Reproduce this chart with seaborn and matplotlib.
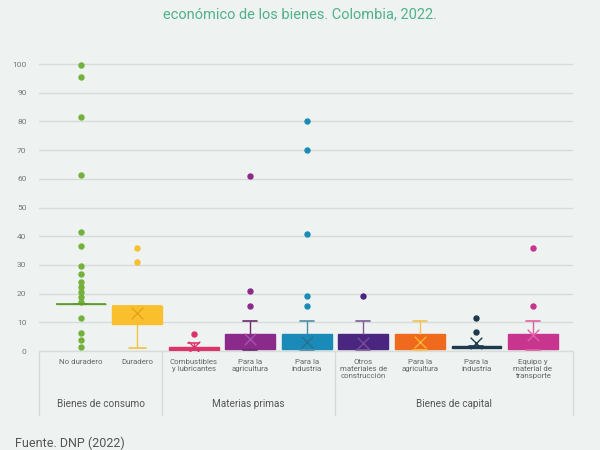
import matplotlib
matplotlib.use("Agg")
import matplotlib.pyplot as plt
import pandas as pd
import seaborn as sns

# category keys (labels repeat between groups, so keys are kept unique)
keys = ["nd", "du", "cl", "mp_ag", "mp_in", "bk_om", "bk_ag", "bk_in", "bk_eq"]
tick_labels = ["No duradero", "Duradero", "Combustibles\ny lubricantes",
               "Para la\nagricultura", "Para la\nindustria",
               "Otros\nmateriales de\nconstrucción", "Para la\nagricultura",
               "Para la\nindustria", "Equipo y\nmaterial de\ntransporte"]
groups = ["Bienes de consumo", "Materias primas", "Bienes de capital"]

values = {
    "nd": [16.3] * 36 + [99.6, 95.6, 81.4, 61.4, 41.5, 36.5, 29.5, 26.7, 24.2,
                         22.3, 20.5, 18.7, 17.1, 11.4, 6.4, 3.9, 1.4],
    "du": [0.9, 9.3, 9.3, 12.0, 15.7, 15.7, 15.7, 31.0, 36.0],
    "cl": [0.1, 0.2, 0.2, 0.5, 0.8, 1.3, 1.3, 2.8, 5.8],
    "mp_ag": [0.5, 0.6, 0.6, 0.6, 0.6, 1.0, 1.5, 2.0, 3.0, 4.0, 5.0, 5.8, 5.8,
              10.6, 15.8, 20.8, 60.9],
    "mp_in": [0.5, 0.6, 0.6, 0.6, 0.6, 0.6, 0.6, 1.0, 1.0, 1.5, 2.0, 2.0, 2.5,
              3.0, 3.5, 4.0, 5.0, 5.8, 5.8, 10.6, 15.8, 19.3, 40.8, 70.0, 80.1],
    "bk_om": [0.5, 0.6, 0.6, 2.0, 3.0, 5.8, 5.8, 10.6, 19.3],
    "bk_ag": [0.5, 0.6, 0.6, 2.0, 3.0, 5.8, 5.8, 8.0, 10.6],
    "bk_in": [1.0, 1.2, 1.2, 1.5, 1.5, 1.8, 1.8, 6.6, 11.6],
    "bk_eq": [0.5, 0.6, 0.6, 0.6, 1.0, 2.0, 3.0, 4.0, 5.0, 5.8, 10.6, 15.8, 35.8],
}
# mean markers (the one for "No duradero" is hidden in the picture)
means = [None, 13.2, 1.5, 4.3, 3.2, 2.9, 3.2, 2.7, 5.6]

box_colors = ["#74b13a", "#f9bf2c", "#dc3468", "#8c2a8c", "#1a8bb8",
              "#4b2680", "#f06a1e", "#1e3a4c", "#c7358f"]
line_colors = ["#5e9a2c", "#f5c040", "#dc3468", "#6a2a70", "#4f8ca6",
               "#7f5a95", "#f7c24e", "#1e3a4c", "#e0609f"]
mean_colors = ["#5e9a2c", "#e6a21c", "#dc3468", "#a653ab", "#2a6f8f",
               "#7a4a9a", "#f9b233", "#1e3a4c", "#e060a8"]
cap_widths = [0.25, 0.3, 0.2, 0.25, 0.25, 0.25, 0.25, 0.25, 0.25]

bg = "#eef3f1"
sns.set_theme(style="white")
plt.rcParams["font.family"] = ["Roboto", "DejaVu Sans"]

df = pd.DataFrame([(k, v) for k in keys for v in values[k]], columns=["cat", "val"])

fig = plt.figure(figsize=(6, 4.5), dpi=100, facecolor=bg)
ax = fig.add_axes([39 / 600, 0.22, 534 / 600, 0.6505], facecolor=bg)

for i, k in enumerate(keys):
    sub = df[df["cat"] == k]
    sns.boxplot(data=sub, x="cat", y="val", order=keys, ax=ax, width=0.88,
                color=box_colors[i], linecolor=line_colors[i], saturation=1,
                whis=1.5, capwidths=cap_widths[i],
                boxprops=dict(facecolor=box_colors[i], edgecolor=box_colors[i], linewidth=1),
                medianprops=dict(color=line_colors[i] if i in (0, 7) else box_colors[i], linewidth=1.2),
                whiskerprops=dict(color=line_colors[i], linewidth=1),
                capprops=dict(color=line_colors[i], linewidth=1.2),
                flierprops=dict(marker="o", markerfacecolor=box_colors[i],
                                markeredgecolor=box_colors[i], markersize=3.6),
                zorder=3)

mdf = pd.DataFrame({"cat": keys, "mean": means}).dropna()
for i, k in enumerate(keys):
    row = mdf[mdf["cat"] == k]
    if row.empty:
        continue
    sns.scatterplot(data=row, x="cat", y="mean", ax=ax,
                    marker="x", s=70, color=mean_colors[i], linewidth=1,
                    zorder=5, legend=False)

ax.set_xlim(-0.74, 8.71)
ax.set_ylim(0, 102)
ax.set_yticks(range(0, 101, 10))
ax.set_yticklabels([str(t) for t in range(0, 101, 10)], fontsize=6, color="#777777")
ax.yaxis.grid(True, color="#d6dcda", linewidth=1)
ax.set_axisbelow(True)
ax.set_xticks(range(len(keys)))
ax.set_xticklabels(tick_labels, fontsize=5.7, color="#666666", linespacing=1.15, va="top")
ax.tick_params(axis="both", length=0)
ax.tick_params(axis="x", pad=6)
ax.tick_params(axis="y", pad=9)
ax.set_xlabel("")
ax.set_ylabel("")
for s in ax.spines.values():
    s.set_visible(False)

# category table below the axis
tr = ax.get_xaxis_transform()
ax.plot([-0.74, 8.71], [0, 0], transform=tr, color="#d6dcda", lw=1, clip_on=False, zorder=1)
for xs in [-0.74, 1.43, 4.5, 8.71]:
    ax.plot([xs, xs], [0, -0.219], transform=tr, color="#d6dcda", lw=1, clip_on=False)
for xc, g in zip([0.35, 2.97, 6.6], groups):
    ax.text(xc, -0.18, g, transform=tr, ha="center", va="center", fontsize=7.2, color="#555555")

fig.text(0.5, 1 - 14 / 450, "económico de los bienes. Colombia, 2022.", ha="center",
         va="center", fontsize=10.5, color="#52b08a")
fig.text(15 / 600, 1 - 437 / 450, "Fuente. DNP (2022)", ha="left", va="top",
         fontsize=9, color="#555555")

fig.savefig("out.png", dpi=100, facecolor=bg)
